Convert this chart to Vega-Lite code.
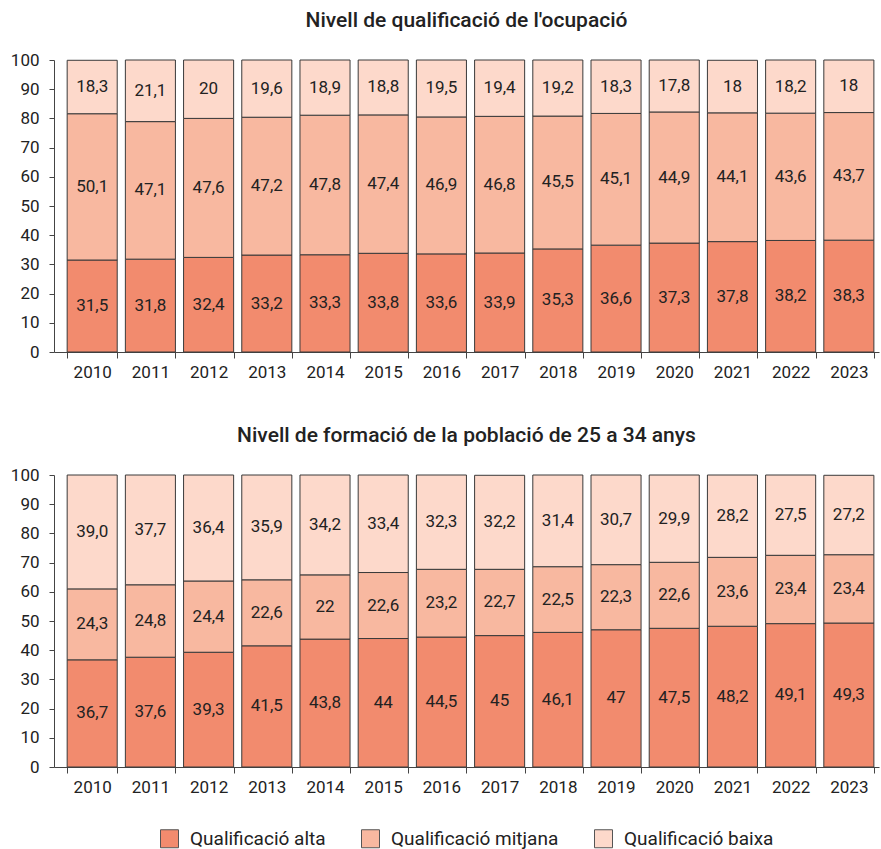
{
  "$schema": "https://vega.github.io/schema/vega-lite/v6.json",
  "padding": {"left": 10, "top": 10, "right": 2, "bottom": 5},
  "background": "white",
  "config": {
    "font": "Roboto",
    "view": {"stroke": null},
    "concat": {"spacing": 45},
    "axis": {"labelFont": "Roboto", "labelFontSize": 17, "labelColor": "#222", "domainColor": "#444", "tickColor": "#444", "grid": false, "title": null, "labelOverlap": false},
    "legend": {"layout": {"bottom": {"anchor": "middle"}}},
    "title": {"font": "Roboto", "fontSize": 21, "fontWeight": 500, "color": "#222", "anchor": "middle", "offset": 20}
  },
  "datasets": {
    "ocup": [
      {"year": "2010", "cat": "Qualificació alta", "ord": 1, "value": 31.5, "label": "31,5"},
      {"year": "2010", "cat": "Qualificació mitjana", "ord": 2, "value": 50.1, "label": "50,1"},
      {"year": "2010", "cat": "Qualificació baixa", "ord": 3, "value": 18.3, "label": "18,3"},
      {"year": "2011", "cat": "Qualificació alta", "ord": 1, "value": 31.8, "label": "31,8"},
      {"year": "2011", "cat": "Qualificació mitjana", "ord": 2, "value": 47.1, "label": "47,1"},
      {"year": "2011", "cat": "Qualificació baixa", "ord": 3, "value": 21.1, "label": "21,1"},
      {"year": "2012", "cat": "Qualificació alta", "ord": 1, "value": 32.4, "label": "32,4"},
      {"year": "2012", "cat": "Qualificació mitjana", "ord": 2, "value": 47.6, "label": "47,6"},
      {"year": "2012", "cat": "Qualificació baixa", "ord": 3, "value": 20, "label": "20"},
      {"year": "2013", "cat": "Qualificació alta", "ord": 1, "value": 33.2, "label": "33,2"},
      {"year": "2013", "cat": "Qualificació mitjana", "ord": 2, "value": 47.2, "label": "47,2"},
      {"year": "2013", "cat": "Qualificació baixa", "ord": 3, "value": 19.6, "label": "19,6"},
      {"year": "2014", "cat": "Qualificació alta", "ord": 1, "value": 33.3, "label": "33,3"},
      {"year": "2014", "cat": "Qualificació mitjana", "ord": 2, "value": 47.8, "label": "47,8"},
      {"year": "2014", "cat": "Qualificació baixa", "ord": 3, "value": 18.9, "label": "18,9"},
      {"year": "2015", "cat": "Qualificació alta", "ord": 1, "value": 33.8, "label": "33,8"},
      {"year": "2015", "cat": "Qualificació mitjana", "ord": 2, "value": 47.4, "label": "47,4"},
      {"year": "2015", "cat": "Qualificació baixa", "ord": 3, "value": 18.8, "label": "18,8"},
      {"year": "2016", "cat": "Qualificació alta", "ord": 1, "value": 33.6, "label": "33,6"},
      {"year": "2016", "cat": "Qualificació mitjana", "ord": 2, "value": 46.9, "label": "46,9"},
      {"year": "2016", "cat": "Qualificació baixa", "ord": 3, "value": 19.5, "label": "19,5"},
      {"year": "2017", "cat": "Qualificació alta", "ord": 1, "value": 33.9, "label": "33,9"},
      {"year": "2017", "cat": "Qualificació mitjana", "ord": 2, "value": 46.8, "label": "46,8"},
      {"year": "2017", "cat": "Qualificació baixa", "ord": 3, "value": 19.4, "label": "19,4"},
      {"year": "2018", "cat": "Qualificació alta", "ord": 1, "value": 35.3, "label": "35,3"},
      {"year": "2018", "cat": "Qualificació mitjana", "ord": 2, "value": 45.5, "label": "45,5"},
      {"year": "2018", "cat": "Qualificació baixa", "ord": 3, "value": 19.2, "label": "19,2"},
      {"year": "2019", "cat": "Qualificació alta", "ord": 1, "value": 36.6, "label": "36,6"},
      {"year": "2019", "cat": "Qualificació mitjana", "ord": 2, "value": 45.1, "label": "45,1"},
      {"year": "2019", "cat": "Qualificació baixa", "ord": 3, "value": 18.3, "label": "18,3"},
      {"year": "2020", "cat": "Qualificació alta", "ord": 1, "value": 37.3, "label": "37,3"},
      {"year": "2020", "cat": "Qualificació mitjana", "ord": 2, "value": 44.9, "label": "44,9"},
      {"year": "2020", "cat": "Qualificació baixa", "ord": 3, "value": 17.8, "label": "17,8"},
      {"year": "2021", "cat": "Qualificació alta", "ord": 1, "value": 37.8, "label": "37,8"},
      {"year": "2021", "cat": "Qualificació mitjana", "ord": 2, "value": 44.1, "label": "44,1"},
      {"year": "2021", "cat": "Qualificació baixa", "ord": 3, "value": 18, "label": "18"},
      {"year": "2022", "cat": "Qualificació alta", "ord": 1, "value": 38.2, "label": "38,2"},
      {"year": "2022", "cat": "Qualificació mitjana", "ord": 2, "value": 43.6, "label": "43,6"},
      {"year": "2022", "cat": "Qualificació baixa", "ord": 3, "value": 18.2, "label": "18,2"},
      {"year": "2023", "cat": "Qualificació alta", "ord": 1, "value": 38.3, "label": "38,3"},
      {"year": "2023", "cat": "Qualificació mitjana", "ord": 2, "value": 43.7, "label": "43,7"},
      {"year": "2023", "cat": "Qualificació baixa", "ord": 3, "value": 18, "label": "18"}
    ],
    "form": [
      {"year": "2010", "cat": "Qualificació alta", "ord": 1, "value": 36.7, "label": "36,7"},
      {"year": "2010", "cat": "Qualificació mitjana", "ord": 2, "value": 24.3, "label": "24,3"},
      {"year": "2010", "cat": "Qualificació baixa", "ord": 3, "value": 39.0, "label": "39,0"},
      {"year": "2011", "cat": "Qualificació alta", "ord": 1, "value": 37.6, "label": "37,6"},
      {"year": "2011", "cat": "Qualificació mitjana", "ord": 2, "value": 24.8, "label": "24,8"},
      {"year": "2011", "cat": "Qualificació baixa", "ord": 3, "value": 37.7, "label": "37,7"},
      {"year": "2012", "cat": "Qualificació alta", "ord": 1, "value": 39.3, "label": "39,3"},
      {"year": "2012", "cat": "Qualificació mitjana", "ord": 2, "value": 24.4, "label": "24,4"},
      {"year": "2012", "cat": "Qualificació baixa", "ord": 3, "value": 36.4, "label": "36,4"},
      {"year": "2013", "cat": "Qualificació alta", "ord": 1, "value": 41.5, "label": "41,5"},
      {"year": "2013", "cat": "Qualificació mitjana", "ord": 2, "value": 22.6, "label": "22,6"},
      {"year": "2013", "cat": "Qualificació baixa", "ord": 3, "value": 35.9, "label": "35,9"},
      {"year": "2014", "cat": "Qualificació alta", "ord": 1, "value": 43.8, "label": "43,8"},
      {"year": "2014", "cat": "Qualificació mitjana", "ord": 2, "value": 22, "label": "22"},
      {"year": "2014", "cat": "Qualificació baixa", "ord": 3, "value": 34.2, "label": "34,2"},
      {"year": "2015", "cat": "Qualificació alta", "ord": 1, "value": 44, "label": "44"},
      {"year": "2015", "cat": "Qualificació mitjana", "ord": 2, "value": 22.6, "label": "22,6"},
      {"year": "2015", "cat": "Qualificació baixa", "ord": 3, "value": 33.4, "label": "33,4"},
      {"year": "2016", "cat": "Qualificació alta", "ord": 1, "value": 44.5, "label": "44,5"},
      {"year": "2016", "cat": "Qualificació mitjana", "ord": 2, "value": 23.2, "label": "23,2"},
      {"year": "2016", "cat": "Qualificació baixa", "ord": 3, "value": 32.3, "label": "32,3"},
      {"year": "2017", "cat": "Qualificació alta", "ord": 1, "value": 45, "label": "45"},
      {"year": "2017", "cat": "Qualificació mitjana", "ord": 2, "value": 22.7, "label": "22,7"},
      {"year": "2017", "cat": "Qualificació baixa", "ord": 3, "value": 32.2, "label": "32,2"},
      {"year": "2018", "cat": "Qualificació alta", "ord": 1, "value": 46.1, "label": "46,1"},
      {"year": "2018", "cat": "Qualificació mitjana", "ord": 2, "value": 22.5, "label": "22,5"},
      {"year": "2018", "cat": "Qualificació baixa", "ord": 3, "value": 31.4, "label": "31,4"},
      {"year": "2019", "cat": "Qualificació alta", "ord": 1, "value": 47, "label": "47"},
      {"year": "2019", "cat": "Qualificació mitjana", "ord": 2, "value": 22.3, "label": "22,3"},
      {"year": "2019", "cat": "Qualificació baixa", "ord": 3, "value": 30.7, "label": "30,7"},
      {"year": "2020", "cat": "Qualificació alta", "ord": 1, "value": 47.5, "label": "47,5"},
      {"year": "2020", "cat": "Qualificació mitjana", "ord": 2, "value": 22.6, "label": "22,6"},
      {"year": "2020", "cat": "Qualificació baixa", "ord": 3, "value": 29.9, "label": "29,9"},
      {"year": "2021", "cat": "Qualificació alta", "ord": 1, "value": 48.2, "label": "48,2"},
      {"year": "2021", "cat": "Qualificació mitjana", "ord": 2, "value": 23.6, "label": "23,6"},
      {"year": "2021", "cat": "Qualificació baixa", "ord": 3, "value": 28.2, "label": "28,2"},
      {"year": "2022", "cat": "Qualificació alta", "ord": 1, "value": 49.1, "label": "49,1"},
      {"year": "2022", "cat": "Qualificació mitjana", "ord": 2, "value": 23.4, "label": "23,4"},
      {"year": "2022", "cat": "Qualificació baixa", "ord": 3, "value": 27.5, "label": "27,5"},
      {"year": "2023", "cat": "Qualificació alta", "ord": 1, "value": 49.3, "label": "49,3"},
      {"year": "2023", "cat": "Qualificació mitjana", "ord": 2, "value": 23.4, "label": "23,4"},
      {"year": "2023", "cat": "Qualificació baixa", "ord": 3, "value": 27.2, "label": "27,2"}
    ]
  },
  "vconcat": [
    {
      "title": {"text": "Nivell de qualificació de l'ocupació"},
      "width": 825,
      "height": 292,
      "data": {"name": "ocup"},
      "transform": [{"stack": "value", "groupby": ["year"], "sort": [{"field": "ord", "order": "ascending"}], "as": ["v0", "v1"]}],
      "encoding": {
        "x": {"field": "year", "type": "ordinal", "scale": {"paddingInner": 0.14, "paddingOuter": 0.157, "align": 0.72},
              "axis": {"labelAngle": 0, "tickBand": "extent", "tickSize": 6, "labelPadding": 6}}
      },
      "layer": [
        {
          "mark": {"type": "bar", "stroke": "#3a3a3a", "strokeWidth": 1},
          "encoding": {
            "y": {"field": "v0", "type": "quantitative", "scale": {"domain": [0, 100], "nice": false, "clamp": true},
                  "axis": {"values": [0, 10, 20, 30, 40, 50, 60, 70, 80, 90, 100], "tickSize": 5, "labelPadding": 10}},
            "y2": {"field": "v1"},
            "color": {"field": "cat", "type": "nominal",
                      "scale": {"domain": ["Qualificació alta", "Qualificació mitjana", "Qualificació baixa"], "range": ["#f28b6e", "#f8b8a0", "#fdd9cb"]},
                      "legend": {"orient": "bottom", "direction": "horizontal", "title": null, "symbolType": "square", "symbolSize": 324, "symbolStrokeColor": "#555", "symbolStrokeWidth": 1, "symbolOpacity": 1, "labelFontSize": 19, "labelColor": "#222", "labelLimit": 400, "columnPadding": 33, "labelOffset": 11, "offset": 34}}
          }
        },
        {
          "transform": [{"fold": ["v0", "v1"], "as": ["k", "fv"]}],
          "mark": {"type": "text", "fontSize": 17, "color": "#222", "baseline": "middle"},
          "encoding": {
            "y": {"aggregate": "mean", "field": "fv", "type": "quantitative", "stack": null,
                  "axis": {"values": [0, 10, 20, 30, 40, 50, 60, 70, 80, 90, 100], "tickSize": 5, "labelPadding": 10}},
            "detail": {"field": "cat"},
            "text": {"field": "label"}
          }
        }
      ]
    },
    {
      "title": {"text": "Nivell de formació de la població de 25 a 34 anys"},
      "width": 825,
      "height": 292,
      "data": {"name": "form"},
      "transform": [{"stack": "value", "groupby": ["year"], "sort": [{"field": "ord", "order": "ascending"}], "as": ["v0", "v1"]}],
      "encoding": {
        "x": {"field": "year", "type": "ordinal", "scale": {"paddingInner": 0.14, "paddingOuter": 0.157, "align": 0.72},
              "axis": {"labelAngle": 0, "tickBand": "extent", "tickSize": 6, "labelPadding": 6}}
      },
      "layer": [
        {
          "mark": {"type": "bar", "stroke": "#3a3a3a", "strokeWidth": 1},
          "encoding": {
            "y": {"field": "v0", "type": "quantitative", "scale": {"domain": [0, 100], "nice": false, "clamp": true},
                  "axis": {"values": [0, 10, 20, 30, 40, 50, 60, 70, 80, 90, 100], "tickSize": 5, "labelPadding": 10}},
            "y2": {"field": "v1"},
            "color": {"field": "cat", "type": "nominal",
                      "scale": {"domain": ["Qualificació alta", "Qualificació mitjana", "Qualificació baixa"], "range": ["#f28b6e", "#f8b8a0", "#fdd9cb"]},
                      "legend": {"orient": "bottom", "direction": "horizontal", "title": null, "symbolType": "square", "symbolSize": 324, "symbolStrokeColor": "#555", "symbolStrokeWidth": 1, "symbolOpacity": 1, "labelFontSize": 19, "labelColor": "#222", "labelLimit": 400, "columnPadding": 33, "labelOffset": 11, "offset": 34}}
          }
        },
        {
          "transform": [{"fold": ["v0", "v1"], "as": ["k", "fv"]}],
          "mark": {"type": "text", "fontSize": 17, "color": "#222", "baseline": "middle"},
          "encoding": {
            "y": {"aggregate": "mean", "field": "fv", "type": "quantitative", "stack": null,
                  "axis": {"values": [0, 10, 20, 30, 40, 50, 60, 70, 80, 90, 100], "tickSize": 5, "labelPadding": 10}},
            "detail": {"field": "cat"},
            "text": {"field": "label"}
          }
        }
      ]
    }
  ],
  "resolve": {"scale": {"color": "shared"}}
}
